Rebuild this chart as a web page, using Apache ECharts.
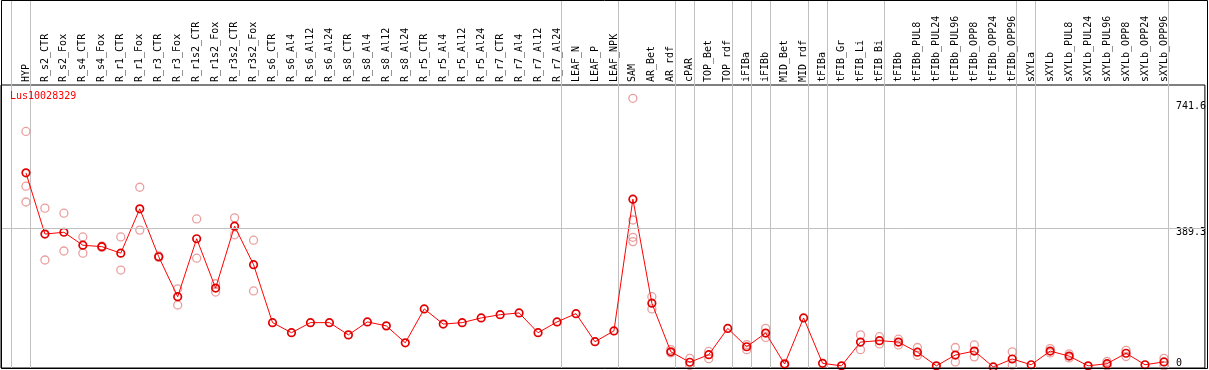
<!DOCTYPE html>
<html>
<head>
<meta charset="utf-8">
<script src="https://cdn.jsdelivr.net/npm/echarts@6/dist/echarts.min.js"></script>
<style>
html,body{margin:0;padding:0;background:#fff;}
#chart{width:1209px;height:370px;}
</style>
</head>
<body>
<div id="chart"></div>
<script>
const geneName = 'Lus10028329';
const categories = ['HYP','R_s2_CTR','R_s2_Fox','R_s4_CTR','R_s4_Fox','R_r1_CTR','R_r1_Fox','R_r3_CTR','R_r3_Fox','R_r1s2_CTR','R_r1s2_Fox','R_r3s2_CTR','R_r3s2_Fox','R_s6_CTR','R_s6_Al4','R_s6_Al12','R_s6_Al24','R_s8_CTR','R_s8_Al4','R_s8_Al12','R_s8_Al24','R_r5_CTR','R_r5_Al4','R_r5_Al12','R_r5_Al24','R_r7_CTR','R_r7_Al4','R_r7_Al12','R_r7_Al24','LEAF_N','LEAF_P','LEAF_NPK','SAM','AR_Bet','AR_rdf','cPAR','TOP_Bet','TOP_rdf','iFIBa','iFIBb','MID_Bet','MID_rdf','tFIBa','tFIB_Gr','tFIB_Li','tFIB_Bi','tFIBb','tFIBb_PUL8','tFIBb_PUL24','tFIBb_PUL96','tFIBb_OPP8','tFIBb_OPP24','tFIBb_OPP96','sXYLa','sXYLb','sXYLb_PUL8','sXYLb_PUL24','sXYLb_PUL96','sXYLb_OPP8','sXYLb_OPP24','sXYLb_OPP96'];
const means = [542,372,377,341,337,319,442,309,198,359,222,394,287,126,98,126,126,92,128,117,70,164,122,126,139,148,153,98,128,151,73,103,469,180,45,16,37,110,59,97,11,139,13,6,72,76,72,44,6,36,47,3,25,9,47,33,6,12,41,9,17];
const repA = [657,444,430,364,339,364,502,311,220,414,234,417,355,null,null,null,null,null,null,null,null,null,null,null,null,null,null,null,null,null,null,null,749,198,51,27,46,null,65,110,13,null,null,null,92,87,80,57,null,57,64,null,45,null,54,39,null,18,49,null,27];
const repB = [505,300,325,319,335,272,383,307,175,305,211,370,214,null,null,null,null,null,null,null,null,null,null,null,null,null,null,null,null,null,null,null,411,164,42,7,26,null,51,85,9,null,null,null,51,67,64,35,null,17,31,null,8,null,42,28,null,6,32,null,6];
const repC = [461,null,null,null,null,null,null,null,null,null,null,null,null,null,null,null,null,null,null,null,null,null,null,null,null,null,null,null,null,null,null,null,363,null,null,null,null,null,null,null,null,null,null,null,null,null,null,null,null,null,null,null,null,null,null,null,null,null,null,null,null];
const repD = [null,null,null,null,null,null,null,null,null,null,null,null,null,null,null,null,null,null,null,null,null,null,null,null,null,null,null,null,null,null,null,null,351,null,null,null,null,null,null,null,null,null,null,null,null,null,null,null,null,null,null,null,null,null,null,null,null,null,null,null,null];
const yTickValues = [389.3, 741.6];
const yZeroTick = [0];
const groupEndsAfter = [-1, 0, 28, 31, 34, 35, 37, 38, 39, 41, 42, 45, 52, 53, 60];

const FONT = 'DejaVu Sans Mono';
const meanData = means.map((v, i) => [i, v]);
const repData = [];
[repA, repB, repC, repD].forEach(arr => arr.forEach((v, i) => { if (v != null) repData.push([i, v]); }));

const chart = echarts.init(document.getElementById('chart'), null, {renderer: 'canvas'});
const yBase = {
  type: 'value', min: 0, max: 786, position: 'right',
  axisLine: {show: false}, axisTick: {show: false}, splitLine: {show: false}
};
chart.setOption({
  animation: false,
  backgroundColor: '#fff',
  title: {
    text: geneName, left: 10, top: 91, padding: 0,
    textStyle: {color: '#ff0000', fontSize: 10, fontWeight: 'normal', fontFamily: FONT}
  },
  grid: {left: 1, right: 2, top: 85, bottom: 2, show: true, borderColor: '#000', borderWidth: 1, backgroundColor: 'transparent'},
  xAxis: {
    type: 'value', position: 'top', min: -1.3158, max: 62.158,
    axisLine: {show: false}, axisTick: {show: false}, splitLine: {show: false},
    axisLabel: {
      customValues: categories.map((c, i) => i),
      formatter: v => categories[v],
      rotate: 90, margin: 3, fontFamily: FONT, fontSize: 10, color: '#000'
    }
  },
  yAxis: [
    Object.assign({}, yBase, {
      axisLabel: {inside: true, customValues: yTickValues, formatter: v => v.toFixed(1),
        verticalAlign: 'top', align: 'left', margin: 29, fontFamily: FONT, fontSize: 10, color: '#000'}
    }),
    Object.assign({}, yBase, {
      axisLabel: {inside: true, customValues: yZeroTick, formatter: v => String(v),
        verticalAlign: 'bottom', align: 'left', margin: 29, fontFamily: FONT, fontSize: 10, color: '#000'}
    })
  ],
  series: [
    {
      type: 'scatter', xAxisIndex: 0, yAxisIndex: 0, data: repData, z: 2,
      symbol: 'circle', symbolSize: 8,
      itemStyle: {color: 'rgba(0,0,0,0)', borderColor: '#e58686', borderWidth: 1.3},
      markLine: {
        silent: true, symbol: 'none', label: {show: false},
        lineStyle: {color: '#c0c0c0', width: 1, type: 'solid'},
        data: [{yAxis: 389.3}]
      }
    },
    {
      type: 'line', xAxisIndex: 0, yAxisIndex: 0, data: meanData, z: 3,
      symbol: 'circle', symbolSize: 7.5, showAllSymbol: true,
      lineStyle: {color: '#ff0000', width: 1},
      itemStyle: {color: 'rgba(0,0,0,0)', borderColor: '#e00000', borderWidth: 1.7}
    }
  ]
});

// group separators and outer frame, positioned through the axis scale
const graphics = groupEndsAfter.map(idx => {
  const x = Math.floor(chart.convertToPixel({xAxisIndex: 0}, idx + 0.25)) + 0.5;
  return {type: 'line', z: 1, silent: true,
    shape: {x1: x, y1: 0, x2: x, y2: 368},
    style: {stroke: '#c0c0c0', lineWidth: 1}};
});
graphics.push({type: 'rect', z: 10, silent: true,
  shape: {x: 1.5, y: 0.5, width: 1206, height: 368},
  style: {fill: 'none', stroke: '#000', lineWidth: 1}});
chart.setOption({graphic: graphics});
</script>
</body>
</html>
